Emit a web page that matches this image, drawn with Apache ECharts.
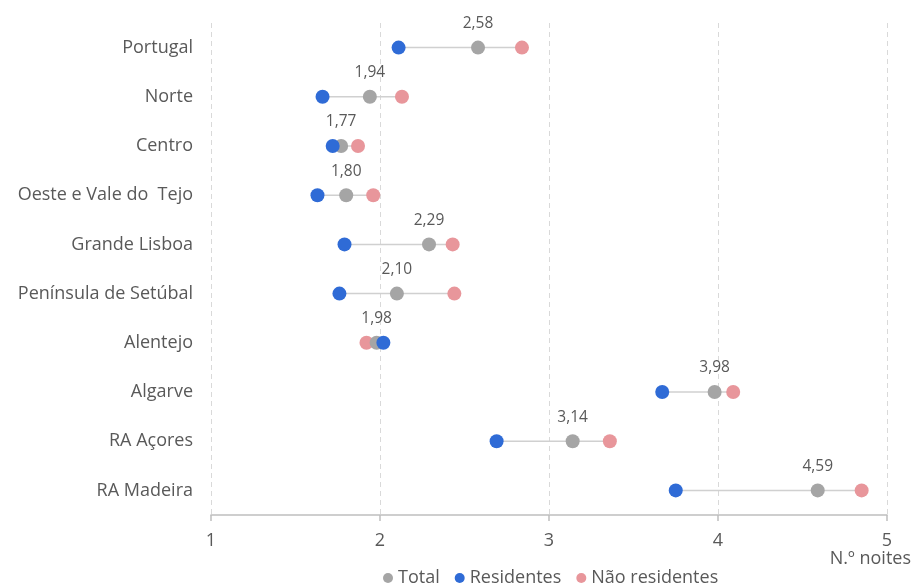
<!DOCTYPE html>
<html>
<head>
<meta charset="utf-8">
<script src="https://cdn.jsdelivr.net/npm/echarts@6/dist/echarts.min.js"></script>
<style>
  html, body { margin: 0; padding: 0; background: #fff; }
  #chart { width: 912px; height: 584px; }
</style>
</head>
<body>
<div id="chart"></div>
<script>
// Estada média (N.º noites) por região
const regioes = ['Portugal', 'Norte', 'Centro', 'Oeste e Vale do  Tejo', 'Grande Lisboa',
  'Península de Setúbal', 'Alentejo', 'Algarve', 'RA Açores', 'RA Madeira'];
const total = [2.58, 1.94, 1.77, 1.80, 2.29, 2.10, 1.98, 3.98, 3.14, 4.59];
const residentes = [2.11, 1.66, 1.72, 1.63, 1.79, 1.76, 2.02, 3.67, 2.69, 3.75];
const naoResidentes = [2.84, 2.13, 1.87, 1.96, 2.43, 2.44, 1.92, 4.09, 3.36, 4.85];
const xTicks = [1, 2, 3, 4, 5];
const xTitulo = 'N.º noites';

const FONT = 'Open Sans';
const TXT = '#595959';

// one row per region: [index, min, max] for the connector segment
const segmentos = regioes.map((r, i) => {
  const v = [total[i], residentes[i], naoResidentes[i]];
  return [i, Math.min(...v), Math.max(...v)];
});

const chart = echarts.init(document.getElementById('chart'));
chart.setOption({
  animation: false,
  textStyle: { fontFamily: FONT },
  grid: { left: 211, right: 25, top: 23, bottom: 69, containLabel: false, outerBoundsMode: 'none' },
  graphic: [{
    type: 'text',
    right: 1,
    top: 550,
    style: { text: xTitulo, fill: TXT, font: '18px "Open Sans"' }
  }],
  xAxis: {
    type: 'value',
    min: xTicks[0],
    max: xTicks[xTicks.length - 1],
    interval: 1,
    axisLine: { show: true, lineStyle: { color: '#bfbfbf', width: 1.5 } },
    axisTick: { show: true, length: 6, lineStyle: { color: '#bfbfbf', width: 1.5 } },
    axisLabel: { color: TXT, fontSize: 18, fontFamily: FONT, margin: 17 },
    splitLine: { show: true, lineStyle: { color: '#d9d9d9', type: [5, 4], width: 1 } }
  },
  yAxis: {
    type: 'category',
    data: regioes,
    inverse: true,
    axisLine: { show: false },
    axisTick: { show: false },
    axisLabel: { color: TXT, fontSize: 18, fontFamily: FONT, margin: 18 },
    splitLine: { show: false }
  },
  legend: {
    left: 378,
    top: 564,
    itemWidth: 10,
    itemHeight: 10,
    itemGap: 15,
    icon: 'circle',
    textStyle: { color: TXT, fontSize: 18, fontFamily: FONT },
    data: ['Total', 'Residentes', 'Não residentes']
  },
  series: [
    {
      type: 'custom',
      name: 'ligação',
      z: 1,
      silent: true,
      data: segmentos,
      encode: { x: [1, 2], y: 0 },
      renderItem: function (params, api) {
        const a = api.coord([api.value(1), api.value(0)]);
        const b = api.coord([api.value(2), api.value(0)]);
        return {
          type: 'line',
          shape: { x1: a[0], y1: a[1], x2: b[0], y2: b[1] },
          style: { stroke: '#d0d0d0', lineWidth: 1.5 }
        };
      }
    },
    {
      type: 'scatter',
      name: 'Não residentes',
      z: 2,
      symbolSize: 14,
      itemStyle: { color: '#e8969b', opacity: 1 },
      data: naoResidentes.map((v, i) => [v, i])
    },
    {
      type: 'scatter',
      name: 'Total',
      z: 3,
      symbolSize: 14,
      itemStyle: { color: '#a5a5a5', opacity: 1 },
      label: {
        show: true,
        position: 'top',
        distance: 9,
        color: TXT,
        fontSize: 15.5,
        fontFamily: FONT,
        formatter: p => p.value[0].toFixed(2).replace('.', ',')
      },
      data: total.map((v, i) => [v, i])
    },
    {
      type: 'scatter',
      name: 'Residentes',
      z: 4,
      symbolSize: 14,
      itemStyle: { color: '#2f6bd6', opacity: 1 },
      data: residentes.map((v, i) => [v, i])
    }
  ]
});
</script>
</body>
</html>
